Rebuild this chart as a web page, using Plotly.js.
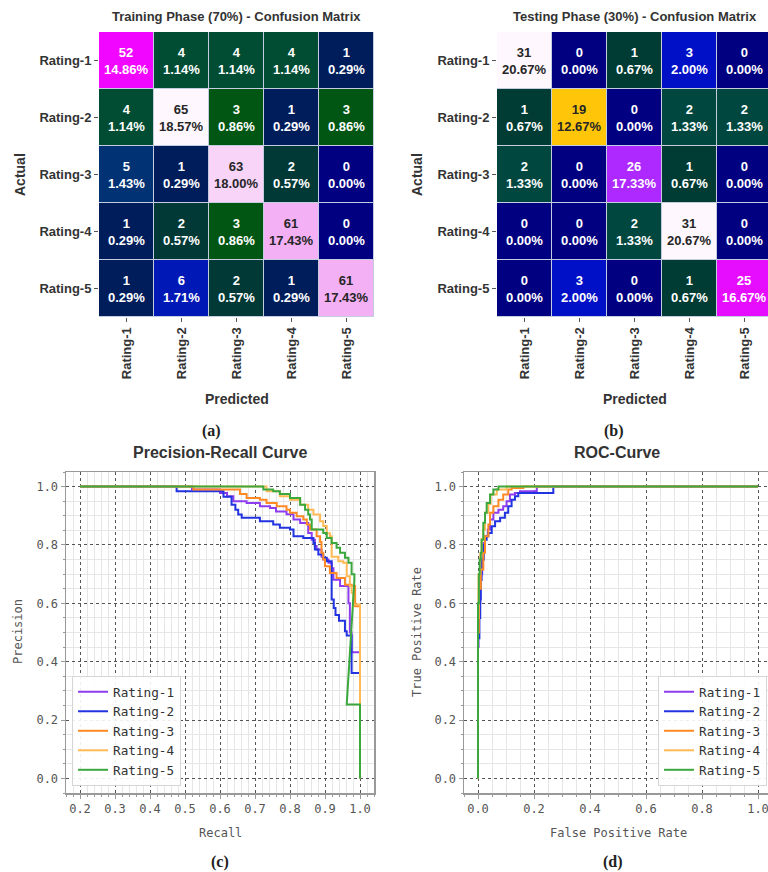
<!DOCTYPE html>
<html><head><meta charset="utf-8">
<script src="https://cdn.plot.ly/plotly-3.0.1.min.js"></script>
<style>html,body{margin:0;padding:0;overflow:hidden;background:#fff}#chart{width:780px;height:872px}</style>
</head><body><div id="chart"></div>
<script>
// ---------------- DATA ----------------
const ratings = ['Rating-1','Rating-2','Rating-3','Rating-4','Rating-5'];
const trainMatrix = [
  [52, 4, 4, 4, 1],
  [4, 65, 3, 1, 3],
  [5, 1, 63, 2, 0],
  [1, 2, 3, 61, 0],
  [1, 6, 2, 1, 61]
];
const testMatrix = [
  [31, 0, 1, 3, 0],
  [1, 19, 0, 2, 2],
  [2, 0, 26, 1, 0],
  [0, 0, 2, 31, 0],
  [0, 3, 0, 1, 25]
];

// Precision-Recall curves (recall, precision)
const prRecall1 = [0.2,0.5,0.52,0.6,0.6,0.62,0.638,0.676,0.714,0.743,0.76,0.79,0.81,0.829,0.852,0.862,0.871,0.876,0.89,0.895,0.91,0.919,0.924,0.943,0.967,0.967,0.971,0.976,0.976,1.0,1.0];
const prPrec1   = [1.0,1.0,0.99,0.99,0.978,0.967,0.95,0.944,0.933,0.927,0.915,0.905,0.887,0.875,0.841,0.818,0.796,0.784,0.76,0.75,0.739,0.72,0.681,0.659,0.647,0.6,0.5,0.5,0.432,0.432,0.0];
const prRecall2 = [0.2,0.476,0.476,0.6,0.61,0.633,0.644,0.652,0.662,0.714,0.752,0.771,0.8,0.81,0.838,0.867,0.871,0.881,0.895,0.905,0.919,0.919,0.925,0.93,0.94,0.957,0.962,0.976,0.976,1.0,1.0];
const prPrec2   = [1.0,1.0,0.984,0.984,0.965,0.938,0.921,0.904,0.893,0.881,0.87,0.859,0.853,0.83,0.824,0.807,0.784,0.767,0.756,0.744,0.739,0.613,0.584,0.56,0.54,0.504,0.49,0.49,0.361,0.361,0.0];
const prRecall3 = [0.2,0.524,0.524,0.657,0.657,0.676,0.714,0.733,0.762,0.79,0.8,0.819,0.838,0.848,0.857,0.876,0.886,0.89,0.895,0.9,0.914,0.933,0.957,0.976,0.986,0.986,1.0,1.0];
const prPrec3   = [1.0,1.0,0.99,0.99,0.975,0.961,0.955,0.944,0.933,0.921,0.91,0.898,0.887,0.87,0.853,0.83,0.81,0.773,0.75,0.727,0.704,0.687,0.664,0.659,0.63,0.59,0.59,0.0];
const prRecall4 = [0.2,0.714,0.733,0.771,0.8,0.829,0.852,0.867,0.886,0.895,0.905,0.914,0.919,0.919,0.938,0.952,0.962,0.971,0.976,0.981,1.0,1.0];
const prPrec4   = [1.0,1.0,0.984,0.967,0.955,0.938,0.921,0.904,0.881,0.865,0.84,0.83,0.807,0.76,0.744,0.739,0.693,0.659,0.636,0.596,0.596,0.0];
const prRecall5 = [0.2,0.724,0.724,0.752,0.752,0.771,0.771,0.8,0.8,0.829,0.829,0.843,0.843,0.852,0.852,0.857,0.857,0.862,0.862,0.895,0.895,0.905,0.905,0.919,0.919,0.933,0.933,0.943,0.943,0.957,0.957,0.967,0.967,0.976,0.976,0.984,0.984,0.962,1.0,1.0];
const prPrec5   = [1.0,1.0,0.99,0.99,0.984,0.984,0.975,0.975,0.961,0.961,0.938,0.938,0.921,0.921,0.904,0.904,0.887,0.887,0.853,0.853,0.841,0.841,0.824,0.824,0.807,0.807,0.79,0.79,0.773,0.773,0.756,0.756,0.739,0.739,0.70,0.70,0.68,0.253,0.253,0.0];

// ROC curves (false positive rate, true positive rate)
const rocFpr1 = [0,0.002,0.008,0.015,0.02,0.025,0.035,0.043,0.055,0.073,0.09,0.102,0.114,0.132,0.15,0.21,0.24,1.0];
const rocTpr1 = [0,0.45,0.6,0.7,0.75,0.807,0.83,0.853,0.887,0.91,0.921,0.933,0.95,0.973,0.978,0.984,1.0,1.0];
const rocFpr2 = [0,0.005,0.008,0.01,0.013,0.02,0.025,0.031,0.037,0.049,0.061,0.079,0.096,0.108,0.12,0.132,0.144,0.162,0.269,0.269,1.0];
const rocTpr2 = [0,0.48,0.55,0.613,0.68,0.75,0.8,0.818,0.83,0.841,0.864,0.881,0.893,0.91,0.933,0.955,0.967,0.978,0.978,1.0,1.0];
const rocFpr3 = [0,0.003,0.01,0.019,0.025,0.037,0.043,0.055,0.073,0.09,0.108,0.12,0.162,0.174,1.0];
const rocTpr3 = [0,0.5,0.65,0.716,0.773,0.83,0.87,0.91,0.933,0.955,0.973,0.99,0.995,1.0,1.0];
const rocFpr4 = [0,0.002,0.008,0.013,0.019,0.025,0.037,0.045,0.067,0.102,0.126,1.0];
const rocTpr4 = [0,0.55,0.7,0.77,0.82,0.853,0.91,0.94,0.973,0.99,1.0,1.0];
const rocFpr5 = [0,0,0.003,0.006,0.01,0.013,0.019,0.025,0.031,0.043,0.055,0.073,0.09,1.0];
const rocTpr5 = [0,0.25,0.6,0.7,0.75,0.773,0.818,0.876,0.91,0.944,0.973,0.99,1.0,1.0];

const seriesNames = ratings;
const seriesColors = ['#8e3cf0','#2233e0','#ff8a24','#ffba55','#3aa83c'];

// ---------------- COLORMAP (gist_ncar) ----------------
const NCAR = {
  r: [[0,0],[0.3098,0],[0.3725,0.3993],[0.4235,0.5003],[0.5333,1],[0.7922,1],[0.8471,0.6218],[0.898,0.9235],[1,0.9961]],
  g: [[0,0],[0.051,0.3722],[0.1059,0],[0.1569,0.7202],[0.1608,0.7537],[0.1647,0.7752],[0.2157,1],[0.2588,0.9804],[0.2706,0.9804],[0.3176,1],[0.3686,0.8081],[0.4275,1],[0.5216,1],[0.6314,0.7292],[0.6863,0.2796],[0.7451,0],[0.7922,0],[0.8431,0.1753],[0.898,0.5],[1,0.9725]],
  b: [[0,0.502],[0.051,0.0222],[0.1098,1],[0.2039,1],[0.2627,0.6145],[0.3216,0],[0.4157,0],[0.4745,0.2342],[0.5333,0],[0.5804,0],[0.6314,0.0549],[0.6902,0],[0.7373,0],[0.7922,0.9738],[0.8,1],[0.8431,1],[0.898,0.9341],[1,0.9961]]
};
function seg(arr, t) {
  for (let i = 1; i < arr.length; i++) {
    if (t <= arr[i][0]) {
      const [t0, v0] = arr[i-1], [t1, v1] = arr[i];
      return v0 + (v1 - v0) * (t - t0) / (t1 - t0);
    }
  }
  return arr[arr.length-1][1];
}
function ncar(t) { return [seg(NCAR.r,t), seg(NCAR.g,t), seg(NCAR.b,t)]; }
const stopSet = new Set();
['r','g','b'].forEach(k => NCAR[k].forEach(p => stopSet.add(p[0])));
const stops = Array.from(stopSet).sort((a,b)=>a-b);
const ncarScale = stops.map(t => { const c = ncar(t); return [t, `rgb(${Math.round(c[0]*255)},${Math.round(c[1]*255)},${Math.round(c[2]*255)})`]; });
function lum(c) {
  const lin = v => v <= 0.03928 ? v/12.92 : Math.pow((v+0.055)/1.055, 2.4);
  return 0.2126*lin(c[0]) + 0.7152*lin(c[1]) + 0.0722*lin(c[2]);
}

// ---------------- LAYOUT HELPERS ----------------
const W = 780, H = 872;
const dx = (a, b) => [a / W, b / W];
const dy = (top, bottom) => [1 - bottom / H, 1 - top / H];
const px = v => v / W;
const py = v => 1 - v / H;

const boldSans = 'Liberation Sans, Arial, sans-serif';
const mono = 'DejaVu Sans Mono, monospace';

const traces = [];
const annotations = [];
const shapes = [];

function addHeatmap(matrix, xa, ya) {
  const zmax = Math.max(...matrix.flat());
  const total = matrix.flat().reduce((a,b)=>a+b,0);
  traces.push({
    type: 'heatmap', z: matrix, x: ratings, y: ratings,
    xaxis: xa, yaxis: ya, zmin: 0, zmax: zmax,
    colorscale: ncarScale, showscale: false, xgap: 1, ygap: 1,
    hoverinfo: 'skip'
  });
  const xr = xa === 'x' ? 'x' : 'x' + xa.slice(1);
  const yr = ya === 'y' ? 'y' : 'y' + ya.slice(1);
  matrix.forEach((row, i) => row.forEach((v, j) => {
    const c = ncar(v / zmax);
    const col = lum(c) > 0.408 ? '#262626' : '#ffffff';
    annotations.push({
      x: ratings[j], y: ratings[i], xref: xr, yref: yr, showarrow: false,
      text: `<b>${v}<br>${(100*v/total).toFixed(2)}%</b>`,
      font: {family: boldSans, size: 13, color: col}
    });
  }));
  shapes.push({type:'rect', xref: xr + ' domain', yref: yr + ' domain', x0:0, x1:1, y0:0, y1:1,
    fillcolor:'#c4cde0', line:{width:0}, layer:'below'});
}
addHeatmap(trainMatrix, 'x', 'y');
addHeatmap(testMatrix, 'x2', 'y2');

const prX = [prRecall1, prRecall2, prRecall3, prRecall4, prRecall5];
const prY = [prPrec1, prPrec2, prPrec3, prPrec4, prPrec5];
const rocX = [rocFpr1, rocFpr2, rocFpr3, rocFpr4, rocFpr5];
const rocY = [rocTpr1, rocTpr2, rocTpr3, rocTpr4, rocTpr5];
for (let k = 0; k < 5; k++) {
  traces.push({type:'scatter', mode:'lines', x: prX[k], y: prY[k], xaxis:'x3', yaxis:'y3',
    name: seriesNames[k], legend:'legend',
    line:{color: seriesColors[k], width: 2, shape: k === 4 ? 'linear' : 'hv'}});
}
for (let k = 0; k < 5; k++) {
  traces.push({type:'scatter', mode:'lines', x: rocX[k], y: rocY[k], xaxis:'x4', yaxis:'y4',
    name: seriesNames[k], legend:'legend2',
    line:{color: seriesColors[k], width: 2, shape:'vh'}});
}

// heatmap axes
function hmX(domain, anchor) {
  return {domain, anchor, type:'category', tickangle:-90, ticks:'outside', ticklen:4, tickcolor:'#555',
    tickfont:{family: boldSans, size:13, color:'#333', weight:'bold'}, showgrid:false, zeroline:false, showline:false, fixedrange:true};
}
function hmY(domain, anchor) {
  return {domain, anchor, type:'category', autorange:'reversed', ticks:'outside', ticklen:4, tickcolor:'#555',
    tickfont:{family: boldSans, size:13, color:'#333', weight:'bold'}, showgrid:false, zeroline:false, showline:false, fixedrange:true};
}
function curveAxis(domain, anchor, range, dtick, minorDtick) {
  return {domain, anchor, range, dtick, tick0: 0, ticks:'outside', ticklen:4, tickcolor:'#999', tickwidth:1,
    tickformat: '.1f',
    tickfont:{family: mono, size:12, color:'#555'},
    showline:true, mirror:true, linecolor:'#999', linewidth:1.5,
    showgrid:true, gridcolor:'#555', gridwidth:1, griddash:'dot', zeroline:false,
    minor:{dtick: minorDtick, tick0: 0, showgrid:true, gridcolor:'#e6e6e6', gridwidth:1, griddash:'solid',
      ticks:'outside', ticklen:2, tickcolor:'#999'}};
}

// titles & labels
function ann(text, x, y, size, family, color, angle) {
  annotations.push({text, x: px(x), y: py(y), xref:'paper', yref:'paper', showarrow:false,
    xanchor:'center', yanchor:'middle', textangle: angle || 0, font:{family, size, color}});
}
ann('<b>Training Phase (70%) - Confusion Matrix</b>', 237, 17, 13, boldSans, '#333');
ann('<b>Testing Phase (30%) - Confusion Matrix</b>', 635, 17, 13, boldSans, '#333');
ann('<b>Actual</b>', 20, 175, 14, boldSans, '#333', -90);
ann('<b>Actual</b>', 417, 175, 14, boldSans, '#333', -90);
ann('<b>Predicted</b>', 237, 399, 14, boldSans, '#333');
ann('<b>Predicted</b>', 635, 399, 14, boldSans, '#333');
ann('<b>(a)</b>', 212, 431, 16, 'Liberation Serif, serif', '#222');
ann('<b>(b)</b>', 614, 431, 16, 'Liberation Serif, serif', '#222');
ann('<b>Precision-Recall Curve</b>', 220, 453, 16, boldSans, '#333');
ann('<b>ROC-Curve</b>', 617, 453, 16, boldSans, '#333');
ann('Recall', 220, 833, 12, mono, '#555');
ann('Precision', 18, 632, 12, mono, '#555', -90);
ann('False Positive Rate', 618, 833, 12, mono, '#555');
ann('True Positive Rate', 417, 632, 12, mono, '#555', -90);
ann('<b>(c)</b>', 220, 862, 16, 'Liberation Serif, serif', '#222');
ann('<b>(d)</b>', 613, 862, 16, 'Liberation Serif, serif', '#222');

const legendStyle = {xanchor:'left', yanchor:'bottom', bgcolor:'rgba(255,255,255,0.9)', bordercolor:'#d6d6d6', borderwidth:1,
  font:{family: mono, size:12.7, color:'#333'}, tracegroupgap:0, itemwidth:30};

const layout = {
  width: W, height: H, margin:{l:0,r:0,t:0,b:0},
  paper_bgcolor:'#fff', plot_bgcolor:'#fff', showlegend:true,
  xaxis: hmX(dx(99,374), 'y'),
  yaxis: hmY(dy(32,317), 'x'),
  xaxis2: hmX(dx(497,772), 'y2'),
  yaxis2: hmY(dy(32,317), 'x2'),
  xaxis3: curveAxis(dx(66,374), 'y3', [0.16,1.04], 0.1, 0.02),
  yaxis3: curveAxis(dy(472,793), 'x3', [-0.05,1.05], 0.2, 0.05),
  xaxis4: curveAxis(dx(464,772), 'y4', [-0.05,1.05], 0.2, 0.05),
  yaxis4: curveAxis(dy(472,793), 'x4', [-0.05,1.05], 0.2, 0.05),
  legend: Object.assign({x: px(72), y: py(786)}, legendStyle),
  legend2: Object.assign({x: px(658), y: py(786)}, legendStyle),
  annotations, shapes
};

Plotly.newPlot('chart', traces, layout, {staticPlot:true, displayModeBar:false});
</script></body></html>
